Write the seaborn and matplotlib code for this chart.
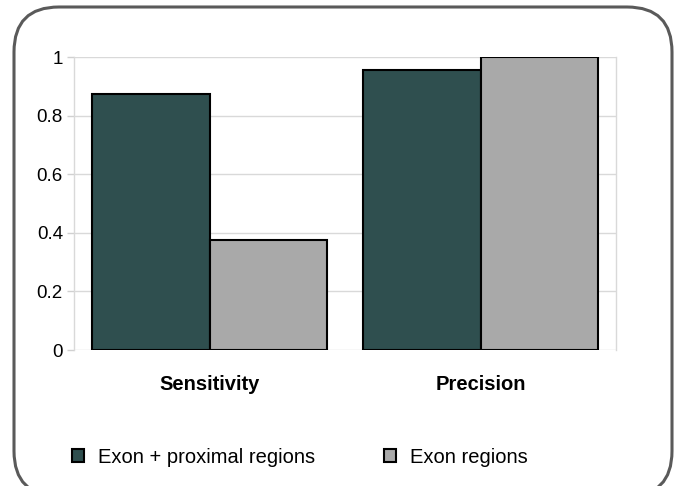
import matplotlib
matplotlib.use('Agg')
import matplotlib.pyplot as plt
import matplotlib.patches as mpatches
import pandas as pd
import seaborn as sns

# Data
metrics = ['Sensitivity', 'Precision']
series = ['Exon + proximal regions', 'Exon regions']
exon_proximal = [0.875, 0.955]
exon_only = [0.375, 1.0]
yticks = [0, 0.2, 0.4, 0.6, 0.8, 1]
ytick_labels = ['0', '0.2', '0.4', '0.6', '0.8', '1']
colors = {'Exon + proximal regions': '#2f4f4f', 'Exon regions': '#a9a9a9'}

df = pd.DataFrame({
    'metric': metrics * 2,
    'series': [series[0]] * 2 + [series[1]] * 2,
    'value': exon_proximal + exon_only,
})

sns.set_style('white')
plt.rcParams['font.family'] = ['Liberation Sans', 'DejaVu Sans']

fig = plt.figure(figsize=(6.79, 4.86), dpi=100)
ax = fig.add_axes([74 / 679, 1 - 350 / 486, 542 / 679, 293 / 486])

sns.barplot(data=df, x='metric', y='value', hue='series', order=metrics,
            hue_order=series, palette=colors, width=0.87, saturation=1,
            edgecolor='black', linewidth=1.5, ax=ax, zorder=3)

handles, labels = ax.get_legend_handles_labels()
ax.get_legend().remove()

# Axes styling
ax.set_xlim(-0.5, 1.5)
ax.set_ylim(0, 1)
ax.set_yticks(yticks)
ax.set_yticklabels(ytick_labels, fontsize=13.5, color='black')
ax.set_xticks([-0.5, 0.5, 1.5], minor=True)
ax.set_xlabel('')
ax.set_ylabel('')
for label in ax.get_xticklabels():
    label.set_fontweight('bold')
    label.set_fontsize(14.5)
    label.set_color('black')
ax.tick_params(axis='x', which='major', length=0, pad=18)
ax.tick_params(axis='x', which='minor', length=5, color='#d0d0d0', width=1)
ax.tick_params(axis='y', length=5, color='#d0d0d0', width=1, pad=3, left=True)
ax.grid(axis='y', color='#d9d9d9', linewidth=1, zorder=0)
ax.set_axisbelow(True)

# Light frame on the left and right edges only
for side in ['top', 'bottom']:
    ax.spines[side].set_visible(False)
for side in ['left', 'right']:
    ax.spines[side].set_color('#d9d9d9')
    ax.spines[side].set_linewidth(1)

# Legend below the plot
leg = fig.legend(handles, labels, loc='center left',
                 bbox_to_anchor=(72 / 679, 1 - 457 / 486), ncol=2, frameon=False,
                 fontsize=14.5, handlelength=0.6, handleheight=0.6,
                 handletextpad=0.7, columnspacing=3.4, borderpad=0, borderaxespad=0)
for text in leg.get_texts():
    text.set_color('black')

# Rounded border around the figure
border = mpatches.FancyBboxPatch((0.14 + 0.45, -0.1 + 0.45), 6.58 - 0.9, 4.89 - 0.9,
                                 boxstyle='round,pad=0.45',
                                 transform=fig.dpi_scale_trans,
                                 facecolor='none', edgecolor='#5a5a5a',
                                 linewidth=2.2, clip_on=False)
fig.patches.append(border)

fig.savefig('out.png', dpi=100)
